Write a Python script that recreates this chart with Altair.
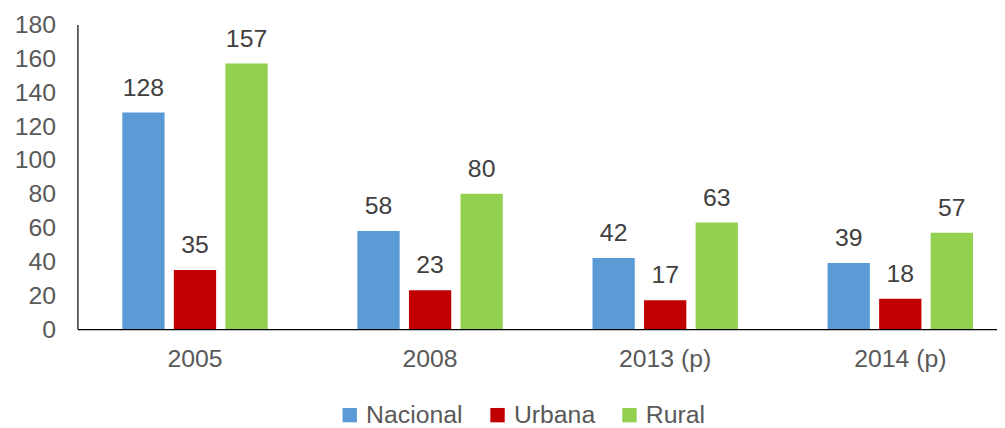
import altair as alt
import pandas as pd

years = ["2005", "2008", "2013 (p)", "2014 (p)"]
series = ["Nacional", "Urbana", "Rural"]
nacional = [128, 58, 42, 39]
urbana = [35, 23, 17, 18]
rural = [157, 80, 63, 57]
colors = ["#5B9BD5", "#C00000", "#92D050"]

rows = []
for i, y in enumerate(years):
    for s, vals in zip(series, [nacional, urbana, rural]):
        rows.append({"year": y, "serie": s, "value": vals[i]})
df = pd.DataFrame(rows)

FONT = "Liberation Sans"
FS = 25

base = alt.Chart(df).encode(
    x=alt.X("year:N", sort=years, title=None,
            scale=alt.Scale(paddingInner=0, paddingOuter=0, range=[0, 948]),
            axis=alt.Axis(labelAngle=0, labelFontSize=FS, labelColor="#595959",
                          labelFont=FONT, ticks=False, labelPadding=18,
                          domainColor="#000000", domainWidth=1.2)),
    xOffset=alt.XOffset("serie:N", sort=series,
                        scale=alt.Scale(paddingInner=0.18, paddingOuter=0.87)),
    y=alt.Y("value:Q", title=None,
            scale=alt.Scale(domain=[0, 180]),
            axis=alt.Axis(values=list(range(0, 181, 20)), grid=False, ticks=False,
                          labelFontSize=FS, labelColor="#595959", labelFont=FONT,
                          labelOverlap=False, labelPadding=22,
                          labelBound=False, labelFlush=False,
                          domainColor="#000000", domainWidth=1.2)),
)

bars = base.mark_bar().encode(
    color=alt.Color("serie:N", sort=series,
                    scale=alt.Scale(domain=series, range=colors),
                    legend=alt.Legend(title=None, orient="none", direction="horizontal",
                                      legendX=262, legendY=381,
                                      symbolType="square", symbolSize=210,
                                      symbolStrokeWidth=0,
                                      labelFontSize=FS, labelColor="#595959",
                                      labelFont=FONT, columnPadding=22,
                                      labelOffset=4, labelLimit=300)),
)

labels = base.mark_text(baseline="bottom", dy=-12, fontSize=FS,
                        color="#404040", font=FONT).encode(
    text=alt.Text("value:Q"),
)

chart = (bars + labels).properties(
    width=927, height=307,
    autosize=alt.AutoSizeParams(type="none"),
    padding={"left": 70, "top": 15, "right": 0, "bottom": 98},
).configure_view(stroke=None)

chart.save("out.html", embed_options={"renderer": "svg", "actions": False})
